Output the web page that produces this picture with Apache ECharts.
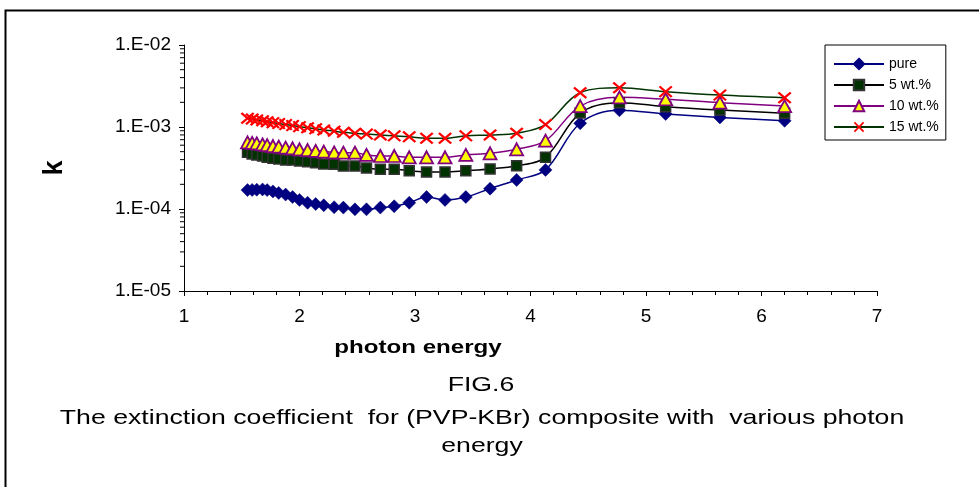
<!DOCTYPE html>
<html>
<head>
<meta charset="utf-8">
<script src="https://cdn.jsdelivr.net/npm/echarts@6/dist/echarts.min.js"></script>
<style>
html,body{margin:0;padding:0;background:#fff;}
#chart{width:979px;height:487px;}
</style>
</head>
<body>
<div id="chart"></div>
<script>
// photon energy (eV)
const energy = [1.55,1.59,1.63,1.68,1.72,1.77,1.82,1.88,1.94,2.00,2.07,2.14,2.21,2.30,2.38,2.48,2.58,2.70,2.82,2.95,3.10,3.26,3.44,3.65,3.88,4.13,4.43,4.77,5.17,5.64,6.20];
const pure = [1.70e-4,1.71e-4,1.72e-4,1.73e-4,1.70e-4,1.64e-4,1.57e-4,1.50e-4,1.40e-4,1.29e-4,1.19e-4,1.15e-4,1.11e-4,1.05e-4,1.04e-4,0.99e-4,0.99e-4,1.04e-4,1.08e-4,1.19e-4,1.40e-4,1.29e-4,1.40e-4,1.77e-4,2.26e-4,3.0e-4,1.11e-3,1.60e-3,1.44e-3,1.31e-3,1.19e-3];
const wt5 = [4.91e-4,4.69e-4,4.56e-4,4.43e-4,4.27e-4,4.15e-4,4.07e-4,3.96e-4,3.96e-4,3.85e-4,3.77e-4,3.67e-4,3.54e-4,3.51e-4,3.34e-4,3.34e-4,3.16e-4,3.05e-4,3.05e-4,2.93e-4,2.82e-4,2.82e-4,2.93e-4,3.08e-4,3.37e-4,4.27e-4,1.48e-3,1.98e-3,1.77e-3,1.61e-3,1.47e-3];
const wt10 = [6.5e-4,6.4e-4,6.3e-4,6.15e-4,6.0e-4,5.86e-4,5.75e-4,5.6e-4,5.5e-4,5.35e-4,5.24e-4,5.1e-4,5.0e-4,4.91e-4,4.86e-4,4.86e-4,4.56e-4,4.43e-4,4.43e-4,4.27e-4,4.27e-4,4.27e-4,4.56e-4,4.78e-4,5.35e-4,6.81e-4,1.80e-3,2.30e-3,2.18e-3,1.98e-3,1.80e-3];
const wt15 = [1.28e-3,1.25e-3,1.22e-3,1.19e-3,1.16e-3,1.13e-3,1.10e-3,1.07e-3,1.04e-3,1.01e-3,0.98e-3,0.95e-3,0.92e-3,0.89e-3,0.86e-3,0.84e-3,0.82e-3,0.80e-3,0.78e-3,0.76e-3,0.73e-3,0.73e-3,0.78e-3,0.80e-3,0.84e-3,1.07e-3,2.62e-3,3.01e-3,2.70e-3,2.45e-3,2.27e-3];
const seriesNames = ['pure','5 wt.%','10 wt.%','15 wt.%'];
const yMinorTicks = [2e-5,3e-5,4e-5,5e-5,6e-5,7e-5,8e-5,9e-5,2e-4,3e-4,4e-4,5e-4,6e-4,7e-4,8e-4,9e-4,2e-3,3e-3,4e-3,5e-3,6e-3,7e-3,8e-3,9e-3];

const FONT = 'Liberation Sans, Arial, sans-serif';
const crossPath = 'path://M0,1.2 L1.2,0 L5,3.8 L8.8,0 L10,1.2 L6.2,5 L10,8.8 L8.8,10 L5,6.2 L1.2,10 L0,8.8 L3.8,5 Z';
const pairs = arr => energy.map((e, i) => [e, arr[i]]);

const chart = echarts.init(document.getElementById('chart'), null, {renderer: 'canvas'});
const SX = 1.27;
chart.setOption({
  animation: false,
  backgroundColor: '#fff',
  grid: {left: 184, right: 102, top: 45, bottom: 196, containLabel: false},
  xAxis: {
    type: 'value', min: 1, max: 7, interval: 1,
    axisLine: {lineStyle: {color: '#000', width: 1}},
    axisTick: {show: true, length: 5, lineStyle: {color: '#000'}},
    minorTick: {show: true, splitNumber: 5, length: 4, lineStyle: {color: '#000'}},
    splitLine: {show: false},
    axisLabel: {color: '#000', fontFamily: FONT, fontSize: 19, margin: 16}
  },
  yAxis: {
    type: 'log', logBase: 10, min: 1e-5, max: 1e-2,
    name: 'k', nameLocation: 'middle', nameGap: 116,
    nameTextStyle: {color: '#000', fontFamily: FONT, fontSize: 27, fontWeight: 'bold'},
    axisLine: {show: true, lineStyle: {color: '#000', width: 1}},
    axisTick: {show: true, length: 5, lineStyle: {color: '#000'}},
    splitLine: {show: false},
    axisLabel: {
      color: '#000', fontFamily: FONT, fontSize: 19, margin: 13,
      formatter: v => '1.E-' + String(-Math.round(Math.log10(v))).padStart(2, '0')
    }
  },
  legend: {
    orient: 'vertical', left: 825, top: 45,
    data: seriesNames,
    backgroundColor: '#fff', borderColor: '#000', borderWidth: 1, borderRadius: 0,
    padding: [12, 7, 6, 8], itemGap: 7, itemWidth: 50, itemHeight: 13,
    textStyle: {color: '#000', fontFamily: FONT, fontSize: 14}
  },
  graphic: [
    {type: 'rect', left: 3, top: 8, silent: true, z: -10,
      shape: {width: 990, height: 500}, style: {fill: 'none', stroke: '#000', lineWidth: 2}},
    {type: 'text', x: 418, y: 348, scaleX: SX, style: {text: 'photon energy', font: 'bold 19px ' + FONT, fill: '#000', align: 'center', verticalAlign: 'middle'}},
    {type: 'text', x: 481, y: 385, scaleX: SX, style: {text: 'FIG.6', font: '21px ' + FONT, fill: '#000', align: 'center', verticalAlign: 'middle'}},
    {type: 'text', x: 482, y: 418, scaleX: SX, style: {text: 'The extinction coefficient  for (PVP-KBr) composite with  various photon', font: '21px ' + FONT, fill: '#000', align: 'center', verticalAlign: 'middle'}},
    {type: 'text', x: 482, y: 446, scaleX: SX, style: {text: 'energy', font: '21px ' + FONT, fill: '#000', align: 'center', verticalAlign: 'middle'}}
  ],
  series: [
    {
      type: 'custom', silent: true, legendHoverLink: false, clip: false,
      data: yMinorTicks.map(v => [1, v]),
      encode: {x: 0, y: 1},
      renderItem: (params, api) => {
        const p = api.coord([1, api.value(1)]);
        return {type: 'line', shape: {x1: p[0] - 4, y1: p[1], x2: p[0], y2: p[1]}, style: {stroke: '#000', lineWidth: 1}};
      }
    },
    {
      name: 'pure', type: 'line', data: pairs(pure), smooth: 0.35,
      symbol: 'diamond', symbolSize: [13, 13], showAllSymbol: true,
      lineStyle: {color: '#000080', width: 1.5},
      itemStyle: {color: '#000080', borderColor: '#000080', borderWidth: 0.5}
    },
    {
      name: '5 wt.%', type: 'line', data: pairs(wt5), smooth: 0.35,
      symbol: 'rect', symbolSize: 10, showAllSymbol: true,
      lineStyle: {color: '#000', width: 1.5},
      itemStyle: {color: '#003300', borderColor: '#333333', borderWidth: 1.5}
    },
    {
      name: '10 wt.%', type: 'line', data: pairs(wt10), smooth: 0.35,
      symbol: 'triangle', symbolSize: [13, 12], showAllSymbol: true,
      lineStyle: {color: '#800080', width: 1.5},
      itemStyle: {color: '#FFFF00', borderColor: '#800080', borderWidth: 1.8}
    },
    {
      name: '15 wt.%', type: 'line', data: pairs(wt15), smooth: 0.35,
      symbol: crossPath, symbolSize: [14, 12], symbolKeepAspect: false, showAllSymbol: true,
      lineStyle: {color: '#003300', width: 1.5},
      itemStyle: {color: '#FF0000'}
    }
  ]
});
</script>
</body>
</html>
